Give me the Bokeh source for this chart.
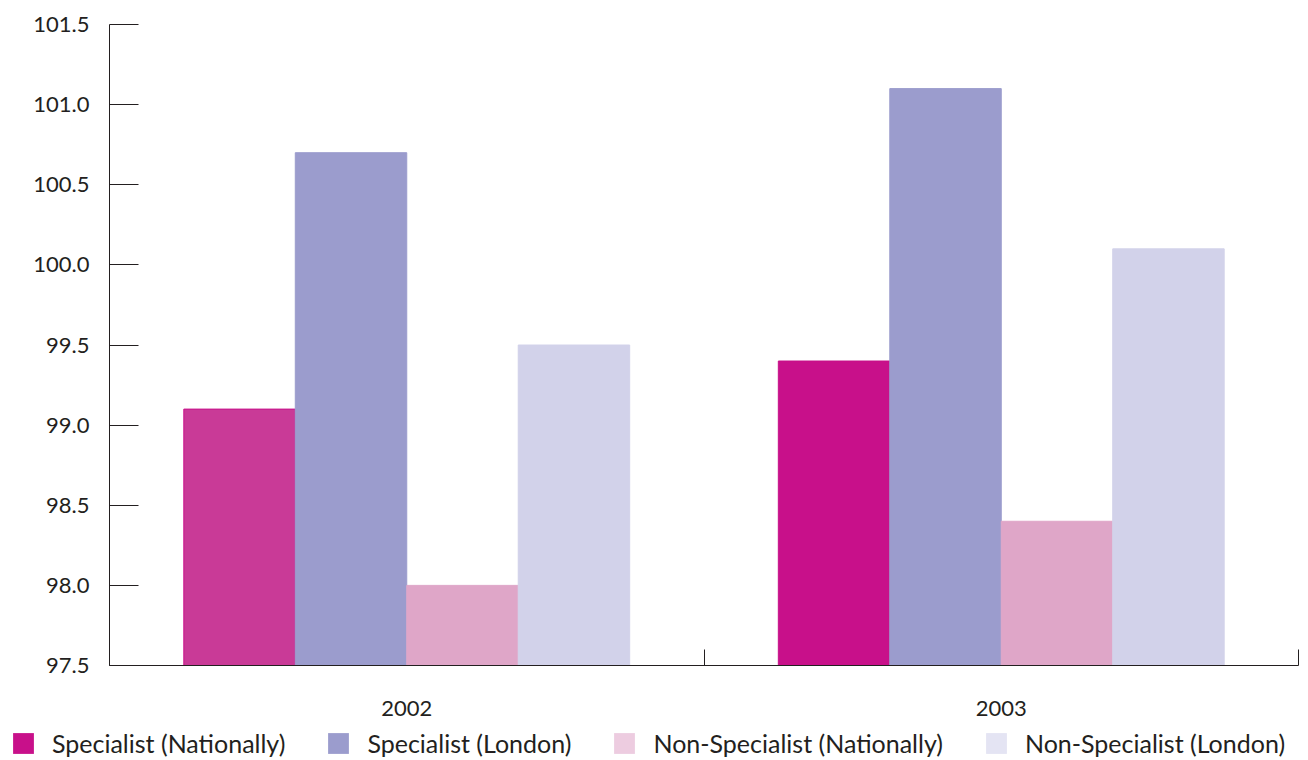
from bokeh.plotting import figure
from bokeh.layouts import column, row
from bokeh.models import (ColumnDataSource, Range1d, FixedTicker, Legend, LegendItem,
                          NumeralTickFormatter)
from bokeh.transform import dodge
from bokeh.embed import file_html
from bokeh.resources import INLINE

years = ["2002", "2003"]
series = ["Specialist (Nationally)", "Specialist (London)",
          "Non-Specialist (Nationally)", "Non-Specialist (London)"]
spec_nat = [99.1, 99.4]
spec_lon = [100.7, 101.1]
nonspec_nat = [98.0, 98.4]
nonspec_lon = [99.5, 100.1]
y_ticks = [97.5, 98.0, 98.5, 99.0, 99.5, 100.0, 100.5, 101.0, 101.5]

values = [spec_nat, spec_lon, nonspec_nat, nonspec_lon]
fills = [["#C93A97", "#C8108A"], ["#9B9CCD", "#9B9CCD"],
         ["#DFA6C8", "#DFA6C8"], ["#D2D2EA", "#D2D2EA"]]
lines = [["#C8108A", "#C8108A"], ["#9B9CCD", "#9B9CCD"],
         ["#DFA6C8", "#DFA6C8"], ["#D2D2EA", "#D2D2EA"]]
legend_colors = ["#C8108A", "#9B9CCD", "#EDCCE0", "#E4E4F3"]
offsets = [-0.28125, -0.09375, 0.09375, 0.28125]
bar_w = 0.1875
FONT = "Lato"
INK = "#231F20"

# category slots: each year occupies one unit, centred on i + 0.5
centers = [i + 0.5 for i in range(len(years))]
bounds = [float(i) for i in range(len(years) + 1)]

p = figure(width=1308, height=728, x_range=Range1d(0, len(years)),
           y_range=Range1d(97.5, 101.5), output_backend="svg", toolbar_location=None,
           min_border_left=109, min_border_right=10,
           min_border_top=24, min_border_bottom=63)
p.outline_line_color = None
p.grid.visible = False
p.background_fill_color = "white"
p.border_fill_color = "white"

xa = p.xaxis[0]
xa.ticker = FixedTicker(ticks=centers, minor_ticks=bounds)
xa.major_label_overrides = {c: y for c, y in zip(centers, years)}
xa.major_tick_line_color = None
xa.major_tick_in = 0
xa.major_tick_out = 0
xa.minor_tick_in = 16
xa.minor_tick_out = 0
xa.minor_tick_line_color = INK
xa.axis_line_color = INK
xa.major_label_standoff = 35
xa.major_label_text_font = FONT
xa.major_label_text_font_size = "22px"
xa.major_label_text_color = INK

ya = p.yaxis[0]
ya.ticker = FixedTicker(ticks=y_ticks)
ya.formatter = NumeralTickFormatter(format="0.0")
ya.major_tick_in = 29
ya.major_tick_out = 0
ya.minor_tick_line_color = None
ya.axis_line_color = INK
ya.major_tick_line_color = INK
ya.major_label_standoff = 20
ya.major_label_text_font = FONT
ya.major_label_text_font_size = "22px"
ya.major_label_text_color = INK

for vals, fc, lc, off in zip(values, fills, lines, offsets):
    src = ColumnDataSource(dict(x=centers, val=vals, fc=fc, lc=lc))
    p.vbar(x=dodge("x", off), top="val", bottom=97.5, width=bar_w,
           source=src, fill_color="fc", line_color="lc", line_width=1)

# legend strip: its own renderers of the same series, kept outside this strip's view range
lf = figure(width=1308, height=32, x_range=Range1d(-20, -19), y_range=Range1d(0, 1),
            output_backend="svg", toolbar_location=None,
            x_axis_location=None, y_axis_location=None,
            min_border_left=0, min_border_right=0, min_border_top=0, min_border_bottom=0)
lf.outline_line_color = None
lf.grid.visible = False
lf.background_fill_color = "white"
lf.border_fill_color = "white"
items = []
for name, vals, col in zip(series, values, legend_colors):
    r = lf.vbar(x=centers, top=vals, bottom=97.5, width=bar_w,
                fill_color=col, line_color=None)
    items.append(LegendItem(label=name, renderers=[r]))

leg = Legend(items=items, orientation="horizontal", location=(10, 2),
             glyph_width=26, glyph_height=26, label_height=26, label_standoff=16,
             spacing=40, padding=0, margin=0, border_line_color=None,
             background_fill_alpha=0, label_text_font=FONT,
             label_text_font_size="25px", label_text_color=INK)
lf.add_layout(leg, "center")

layout = column(p, row(lf), spacing=0)
open("out.html", "w").write(file_html(layout, INLINE))
